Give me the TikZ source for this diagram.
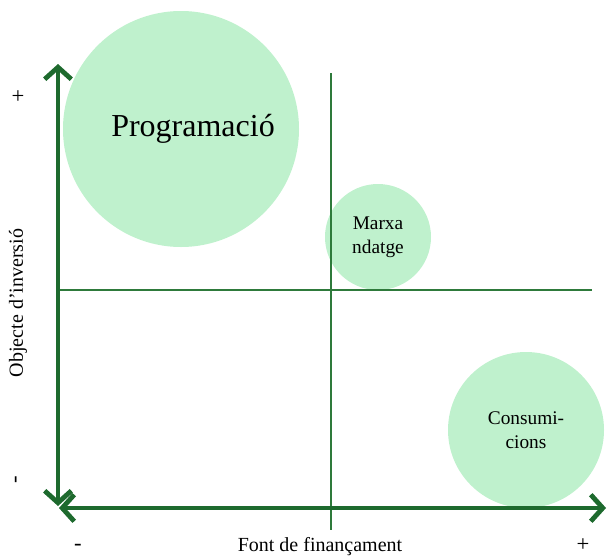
\documentclass[tikz,border=0pt]{standalone}
\usepackage{fontspec}
\setmainfont{Liberation Serif}
\usetikzlibrary{arrows.meta}
\definecolor{axisgreen}{HTML}{1E6A2E}
\definecolor{linegreen}{HTML}{2E7A3B}
\definecolor{bubblegreen}{HTML}{BFF1CD}
\begin{document}
\begin{tikzpicture}[x=0.75pt,y=-0.75pt,
                    bubble/.style={circle,fill=bubblegreen,inner sep=0pt,align=center},
                    axis/.style={draw=axisgreen,line width=3.6pt,line join=round,
                      {Straight Barb[length=9pt,width=20pt]}-{Straight Barb[length=9pt,width=20pt]}},
                    quadrant/.style={draw=linegreen,line width=1.1pt},
                    sign/.style={font=\fontsize{17}{19}\selectfont}]
  \useasboundingbox (0,0) rectangle (607,557);
  % bubbles
  \node[bubble,minimum size=177pt,font=\fontsize{24}{26}\selectfont] (prog) at (181,129) {\hspace*{18pt}Programació};
  \node[bubble,minimum size=79.5pt,font=\fontsize{14.5}{18}\selectfont] (marx) at (378,237) {Marxa\\ndatge};
  \node[bubble,minimum size=117pt,font=\fontsize{14.5}{18}\selectfont] (cons) at (526,430) {Consumi-\\cions};
  % quadrant lines
  \coordinate (vtop) at (331,73);
  \coordinate (vbot) at (331,530);
  \coordinate (hleft) at (60,290);
  \coordinate (hright) at (592,290);
  \path[quadrant] (vtop) -- (vbot);
  \path[quadrant] (hleft) -- (hright);
  % axes
  \coordinate (ytop) at (58,64);
  \coordinate (ybot) at (58,506);
  \coordinate (xleft) at (59,508);
  \coordinate (xright) at (606,508);
  \path[axis] (ybot) -- (ytop);
  \path[axis] (xleft) -- (xright);
  % axis labels
  \node[sign] (yplus) at (18,97) {+};
  \node[sign,rotate=90] (yminus) at (18,480) {-};
  \node[sign] (xminus) at (78,547) {-};
  \node[sign] (xplus) at (583,545) {+};
  \node[font=\fontsize{15}{17}\selectfont,rotate=90] (ylabel) at (18,303) {Objecte d’inversió};
  \node[font=\fontsize{15}{17}\selectfont] (xlabel) at (320,547) {Font de finançament};
\end{tikzpicture}
\end{document}
